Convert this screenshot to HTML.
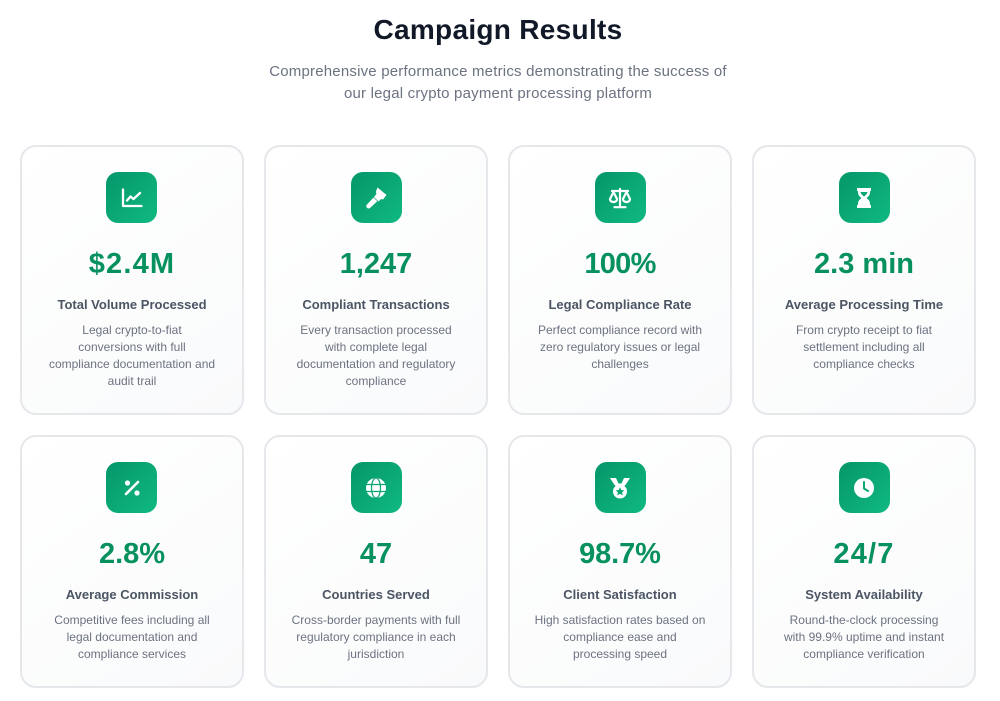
<!DOCTYPE html>
<html lang="en">
<head>
<meta charset="utf-8">
<title>Campaign Results</title>
<style>
html,body{margin:0;padding:0;background:#fff;}
body{width:1000px;height:701px;position:relative;overflow:hidden;font-family:"Liberation Sans",sans-serif;}
h1{position:absolute;left:0;top:12px;width:996px;margin:0;text-align:center;font-size:28px;line-height:36px;font-weight:700;color:#111827;letter-spacing:.3px;}
.sub{position:absolute;left:0;width:996px;text-align:center;font-size:15px;line-height:22px;color:#6b7280;letter-spacing:.2px;}
.card{position:absolute;width:224px;box-sizing:border-box;border:2px solid #e5e7eb;border-radius:16px;background:linear-gradient(145deg,#ffffff,#f9fafb);}
.icon{position:absolute;left:84.5px;top:25px;width:51px;height:51px;border-radius:12px;background:linear-gradient(135deg,#059669,#10b981);}
.first .icon{left:84px;}
.icon svg{position:absolute;left:13.5px;top:13.5px;width:24px;height:24px;}
.val{position:absolute;left:0;top:99px;width:220px;text-align:center;font-size:29px;line-height:36px;font-weight:700;color:#06915f;}
.lab{position:absolute;left:0;top:149px;width:220px;text-align:center;font-size:13px;line-height:18px;font-weight:700;color:#4b5563;}
.desc{position:absolute;left:0;top:175px;width:220px;text-align:center;font-size:12px;line-height:17px;color:#6b7280;}
</style>
</head>
<body>
<h1>Campaign Results</h1>
<div class="sub" style="top:61px">Comprehensive performance metrics demonstrating the success of</div>
<div class="sub" style="top:83px">our legal crypto payment processing platform</div>

<div class="card first" style="left:20px;top:145px;height:270px">
  <div class="icon"><svg viewBox="0 0 24 24" fill="none" stroke="#fff" stroke-width="2.300" stroke-linecap="round" stroke-linejoin="round"><path d="M3 3.500V20H21.500"/><path d="M7 14.500l3.500-4 3 2.500L20 7"/></svg></div>
  <div class="val" style="letter-spacing:1.2px">$2.4M</div>
  <div class="lab">Total Volume Processed</div>
  <div class="desc">Legal crypto-to-fiat<br>conversions with full<br>compliance documentation and<br>audit trail</div>
</div>

<div class="card" style="left:264px;top:145px;height:270px">
  <div class="icon"><svg viewBox="0 0 24 24" fill="#fff"><path d="M13.500 1.500l9 7.500-3.500 4.500-2-.5-2.500 2.500-4.500-4.500 2.500-3-.7-2z"/><path d="M9.500 11.500l3.800 3.800-7.300 6.700c-1 .8-2 .7-3-.3s-1-2-.2-3z"/></svg></div>
  <div class="val">1,247</div>
  <div class="lab">Compliant Transactions</div>
  <div class="desc">Every transaction processed<br>with complete legal<br>documentation and regulatory<br>compliance</div>
</div>

<div class="card" style="left:508px;top:145px;height:270px">
  <div class="icon"><svg viewBox="0 0 24 24" fill="none" stroke="#fff" stroke-width="2.200" stroke-linejoin="round" stroke-linecap="round"><path d="M12 3v18M6.500 21.200h11M4 5h16"/><path d="M5.500 6L2 13c0 2 1.700 3 3.500 3S9 15 9 13z"/><path d="M18.500 6L15 13c0 2 1.700 3 3.500 3S22 15 22 13z"/></svg></div>
  <div class="val" style="letter-spacing:-.7px">100%</div>
  <div class="lab">Legal Compliance Rate</div>
  <div class="desc">Perfect compliance record with<br>zero regulatory issues or legal<br>challenges</div>
</div>

<div class="card" style="left:752px;top:145px;height:270px">
  <div class="icon"><svg viewBox="0 0 24 24" fill="#fff"><path d="M5 2h14v3h-1v1.500c0 2.500-1.800 4.400-3.500 5.500 1.700 1.100 3.500 3 3.500 5.500V19h1v3H5v-3h1v-1.500C6 15 7.800 13.100 9.500 12 7.800 10.900 6 9 6 6.500V5H5z"/><path d="M8.500 6h7c-.3 1.500-1.200 2.800-3.500 4.500C9.700 8.800 8.800 7.500 8.500 6z" fill="#0ba674"/></svg></div>
  <div class="val">2.3 min</div>
  <div class="lab">Average Processing Time</div>
  <div class="desc">From crypto receipt to fiat<br>settlement including all<br>compliance checks</div>
</div>

<div class="card first" style="left:20px;top:435px;height:253px">
  <div class="icon"><svg viewBox="0 0 24 24" fill="#fff"><circle cx="7.500" cy="7" r="2.600"/><circle cx="17" cy="17" r="2.600"/><path d="M18 6L6 18" stroke="#fff" stroke-width="2.600" stroke-linecap="round"/></svg></div>
  <div class="val">2.8%</div>
  <div class="lab">Average Commission</div>
  <div class="desc">Competitive fees including all<br>legal documentation and<br>compliance services</div>
</div>

<div class="card" style="left:264px;top:435px;height:253px">
  <div class="icon"><svg viewBox="0 0 24 24"><circle cx="12" cy="12" r="10" fill="#fff"/><g fill="none" stroke="#0ba674" stroke-width="1.200"><ellipse cx="12" cy="12" rx="4.500" ry="10"/><path d="M2.500 8.500h19M2.500 15.500h19"/></g></svg></div>
  <div class="val">47</div>
  <div class="lab">Countries Served</div>
  <div class="desc">Cross-border payments with full<br>regulatory compliance in each<br>jurisdiction</div>
</div>

<div class="card" style="left:508px;top:435px;height:253px">
  <div class="icon"><svg viewBox="0 0 24 24"><path d="M2 2h6l2.500 5.500h3L16 2h6l-4.500 7-2 1.500h-7l-2-1.500z" fill="#fff"/><circle cx="12" cy="15.500" r="7" fill="#fff"/><path d="M12 11.300l1.300 2.700 3 .4-2.200 2 .6 3-2.700-1.500-2.700 1.500.6-3-2.200-2 3-.4z" fill="#0ba674"/></svg></div>
  <div class="val" style="letter-spacing:-.1px">98.7%</div>
  <div class="lab">Client Satisfaction</div>
  <div class="desc">High satisfaction rates based on<br>compliance ease and<br>processing speed</div>
</div>

<div class="card" style="left:752px;top:435px;height:253px">
  <div class="icon"><svg viewBox="0 0 24 24"><circle cx="12" cy="12" r="10" fill="#fff"/><path d="M12 6v6.500l4 2.500" fill="none" stroke="#0ba674" stroke-width="2" stroke-linecap="round" stroke-linejoin="round"/></svg></div>
  <div class="val" style="letter-spacing:1.2px">24/7</div>
  <div class="lab">System Availability</div>
  <div class="desc">Round-the-clock processing<br>with 99.9% uptime and instant<br>compliance verification</div>
</div>
</body>
</html>
